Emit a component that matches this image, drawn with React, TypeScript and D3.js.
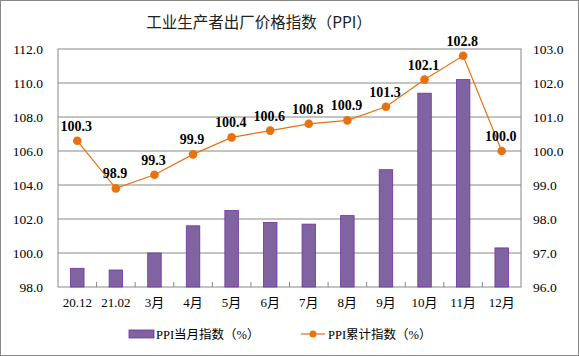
import React from "react";
import * as d3 from "d3";

const categories = ["20.12", "21.02", "3月", "4月", "5月", "6月", "7月", "8月", "9月", "10月", "11月", "12月"];
const monthly = [99.1, 99.0, 100.0, 101.6, 102.5, 101.8, 101.7, 102.2, 104.9, 109.4, 110.2, 100.3];
const cumulative = [100.3, 98.9, 99.3, 99.9, 100.4, 100.6, 100.8, 100.9, 101.3, 102.1, 102.8, 100.0];
const leftTicks = [98, 100, 102, 104, 106, 108, 110, 112];
const rightTicks = [96, 97, 98, 99, 100, 101, 102, 103];

const W = 579, H = 356;
const L = 58, R = 521, T = 49, B = 287;
const serif = "Liberation Serif, Times New Roman, DejaVu Serif, serif";
const cjk = "Liberation Serif, Noto Sans CJK SC, serif";

export default function App() {
  const x = d3.scaleBand<string>().domain(categories).range([L, R]);
  const yL = d3.scaleLinear().domain([98, 112]).range([B, T]);
  const yR = d3.scaleLinear().domain([96, 103]).range([B, T]);
  const bw = 13.5;
  const line = d3.line<number>().x((_, i) => x(categories[i])! + x.bandwidth() / 2).y(d => yR(d));
  const barColor = "#8064A2";
  const orange = "#E9710F";
  const sf = { fontFamily: serif };
  const cf = { fontFamily: cjk };
  return (
    <svg width={W} height={H} style={{ position: "absolute", left: 0, top: 0 }}>
      <rect x={0.5} y={0.5} width={W - 1} height={H - 1} fill="#fff" stroke="#888" />
      <text x={259} y={28} textAnchor="middle" style={{ fontFamily: "Noto Sans CJK SC, sans-serif" }} fontSize={15.5} fill="#222">工业生产者出厂价格指数（PPI）</text>
      {leftTicks.map(t => (
        <g key={"l" + t}>
          {t !== 98 && t !== 112 && <line x1={L} x2={R} y1={yL(t)} y2={yL(t)} stroke="#888" />}
          <text x={L - 15} y={yL(t) + 4.5} textAnchor="end" style={sf} fontSize={13.5} fill="#000">{t.toFixed(1)}</text>
        </g>
      ))}
      {rightTicks.map(t => (
        <text key={"r" + t} x={R + 12} y={yR(t) + 4.5} textAnchor="start" style={sf} fontSize={13.5} fill="#000">{t.toFixed(1)}</text>
      ))}
      <rect x={L} y={T} width={R - L} height={B - T} fill="none" stroke="#888" />
      {categories.map((c, i) => i > 0 && (
        <line key={"tk" + c} x1={x(c)} x2={x(c)} y1={B} y2={B - 5} stroke="#888" />
      ))}
      {monthly.map((v, i) => (
        <rect key={"b" + i} x={x(categories[i])! + x.bandwidth() / 2 - bw / 2} y={yL(v)} width={bw} height={B - yL(v)} fill={barColor} stroke="#7030A0" strokeWidth={0.8} />
      ))}
      <path d={line(cumulative)!} fill="none" stroke={orange} strokeWidth={1.2} />
      {cumulative.map((v, i) => (
        <g key={"p" + i}>
          <circle cx={x(categories[i])! + x.bandwidth() / 2} cy={yR(v)} r={4.3} fill={orange} />
          <text x={x(categories[i])! + x.bandwidth() / 2 - 1} y={yR(v) - 10} textAnchor="middle" style={sf} fontWeight="bold" fontSize={14} fill="#000">{v.toFixed(1)}</text>
        </g>
      ))}
      {categories.map(c => (
        <text key={"x" + c} x={x(c)! + x.bandwidth() / 2} y={307} textAnchor="middle" style={cf} fontSize={13} fill="#000">{c}</text>
      ))}
      <rect x={129} y={330} width={25} height={8} fill={barColor} stroke="#7030A0" strokeWidth={0.8} />
      <text x={156} y={339} style={cf} fontSize={12.5} fill="#000">PPI当月指数（%）</text>
      <line x1={301} x2={325} y1={334} y2={334} stroke={orange} strokeWidth={1.2} />
      <circle cx={313} cy={334} r={3.5} fill={orange} />
      <text x={328} y={339} style={cf} fontSize={12.5} fill="#000">PPI累计指数（%）</text>
    </svg>
  );
}
